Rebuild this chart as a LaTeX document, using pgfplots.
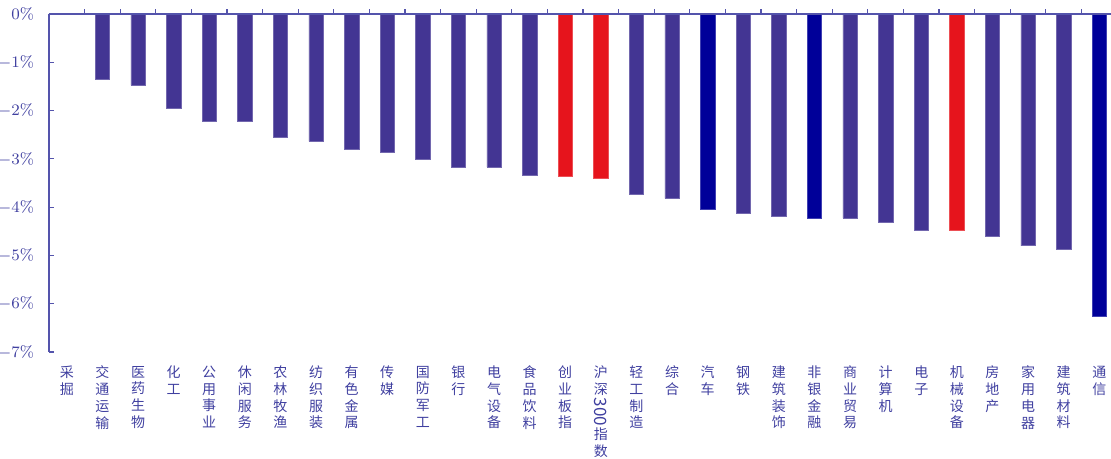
\documentclass[border=0pt]{standalone}
\usepackage{fontspec}
\usepackage{graphicx}
\usepackage{pgfplots}
\pgfplotsset{compat=1.18}
\newfontfamily\cjk{Noto Sans CJK SC}
\newcommand{\hs}{\rotatebox[origin=c]{-90}{\fontsize{8.5}{8.5}\selectfont 300}}
\definecolor{barpurple}{RGB}{67,53,147}
\definecolor{barred}{RGB}{230,20,28}
\definecolor{barnavy}{RGB}{0,0,153}
\definecolor{axcol}{RGB}{84,84,172}
\definecolor{labcol}{RGB}{64,64,160}
\begin{document}
\begin{tikzpicture}
\begin{axis}[
  width=531pt, height=169pt, scale only axis,
  xmin=-0.5, xmax=29.33, ymin=-7, ymax=0,
  clip=false,
  axis line style={draw=none},
  ytick={-7,-6,-5,-4,-3,-2,-1,0},
  yticklabel={\pgfmathprintnumber{\tick}\%},
  ytick pos=left,
  tick align=inside,
  major tick length=2.5pt,
  y tick style={draw=axcol, line width=0.6pt},
  yticklabel style={font=\fontsize{8}{9.6}\selectfont, text=labcol, xshift=-4pt},
  xtick={0,...,29},
  x tick style={draw=none},
  xticklabels={{采\\掘},{交\\通\\运\\输},{医\\药\\生\\物},{化\\工},{公\\用\\事\\业},{休\\闲\\服\\务},{农\\林\\牧\\渔},{纺\\织\\服\\装},{有\\色\\金\\属},{传\\媒},{国\\防\\军\\工},{银\\行},{电\\气\\设\\备},{食\\品\\饮\\料},{创\\业\\板\\指},{沪\\深\\\hs\\指\\数},{轻\\工\\制\\造},{综\\合},{汽\\车},{钢\\铁},{建\\筑\\装\\饰},{非\\银\\金\\融},{商\\业\\贸\\易},{计\\算\\机},{电\\子},{机\\械\\设\\备},{房\\地\\产},{家\\用\\电\\器},{建\\筑\\材\\料},{通\\信}},
  xticklabel style={font=\cjk\fontsize{7}{8.35}\selectfont, text=labcol, align=center, anchor=north, yshift=-1pt},
  ybar, bar width=7.2pt,
]
\addplot[ybar, bar shift=0pt, fill=barpurple, draw=barpurple!75!white, line width=0.3pt] coordinates {
 (0,0) (1,-1.36) (2,-1.48) (3,-1.95) (4,-2.22) (5,-2.22) (6,-2.56) (7,-2.64) (8,-2.81) (9,-2.87)
 (10,-3.01) (11,-3.18) (12,-3.17) (13,-3.34) (16,-3.74) (17,-3.82) (19,-4.13) (20,-4.18)
 (22,-4.23) (23,-4.31) (24,-4.48) (26,-4.61) (27,-4.80) (28,-4.88)};
\addplot[ybar, bar shift=0pt, fill=barred, draw=barred!75!white, line width=0.3pt] coordinates {
 (14,-3.37) (15,-3.40) (25,-4.48)};
\addplot[ybar, bar shift=0pt, fill=barnavy, draw=barnavy!75!white, line width=0.3pt] coordinates {
 (18,-4.04) (21,-4.23) (29,-6.27)};
\draw[axcol, line width=1pt] (rel axis cs:0,0) -- (rel axis cs:0,1);
\draw[axcol, line width=0.8pt] (rel axis cs:0,1) -- (rel axis cs:1,1);
\pgfplotsinvokeforeach{0,...,28}{\draw[axcol, line width=0.6pt] (axis cs:#1.5,0) -- ([yshift=2.5pt]axis cs:#1.5,0);}
\coordinate (tl) at (rel axis cs:0,1);
\end{axis}
\pgfresetboundingbox
\path[use as bounding box] (tl) ++(-24.5pt,7pt) rectangle ++(555.5pt,-229.5pt);
\end{tikzpicture}
\end{document}
